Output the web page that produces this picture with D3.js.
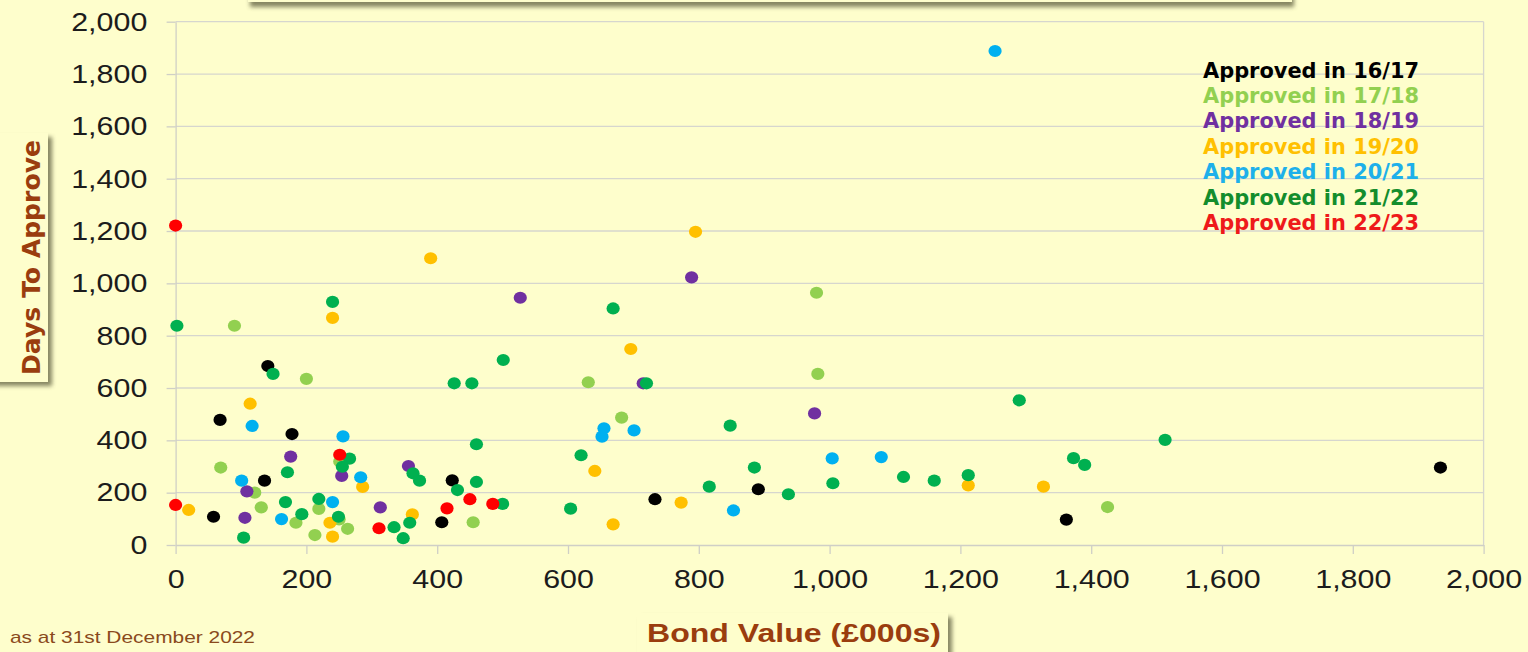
<!DOCTYPE html>
<html>
<head>
<meta charset="utf-8">
<script src="https://cdn.jsdelivr.net/npm/d3@7"></script>
<style>
  html, body { margin: 0; padding: 0; background: #fefecc; overflow: hidden; }
  svg { display: block; }
  .axis text { font-family: 'Liberation Sans', Arial, sans-serif; font-size: 26px; fill: #1c1c1c; }
  .axis .domain { stroke: #cfcfc6; stroke-width: 1.3; }
  .axis .tick line { stroke: #cfcfc6; stroke-width: 1.3; }
  .grid line { stroke: #d6d6ce; stroke-width: 1.3; }
</style>
</head>
<body>
<script>
const w = 1528;
const h = 652;

// series: approval year
const yearLabels = ['16/17', '17/18', '18/19', '19/20', '20/21', '21/22', '22/23'];

// [bond value (£000s), days to approve]
const approved1617 = [
  [58, 108], [68, 478], [141, 684], [136, 246], [178, 424], [423, 247],
  [407, 87], [733, 175], [891, 213], [1362, 97], [1934, 296],
];
const approved1718 = [
  [90, 838], [200, 635], [69, 296], [121, 200], [131, 144], [184, 85],
  [219, 138], [213, 38], [250, 98], [263, 62], [251, 319], [455, 87],
  [631, 622], [682, 487], [980, 964], [982, 654], [1425, 145],
];
const approved1819 = [
  [176, 338], [109, 205], [106, 104], [254, 264], [356, 302], [313, 144],
  [527, 945], [715, 618], [789, 1023], [977, 503],
];
const approved1920 = [
  [20, 134], [114, 540], [240, 868], [390, 1096], [286, 222], [236, 85],
  [240, 32], [362, 117], [641, 283], [669, 79], [696, 749], [773, 162],
  [795, 1197], [1212, 228], [1327, 223],
];
const approved2021 = [
  [117, 455], [256, 415], [283, 259], [101, 246], [162, 99], [240, 164],
  [655, 446], [652, 414], [701, 438], [853, 132], [1004, 331], [1079, 336],
  [1253, 1888],
];
const approved2122 = [
  [2, 838], [149, 654], [240, 929], [501, 707], [426, 618], [453, 618],
  [460, 385], [266, 330], [255, 299], [171, 278], [363, 274], [373, 246],
  [460, 241], [431, 210], [500, 157], [168, 164], [193, 118], [104, 28],
  [219, 176], [249, 108], [358, 85], [334, 68], [348, 26], [604, 139],
  [620, 343], [669, 904], [720, 618], [816, 223], [848, 456], [885, 296],
  [937, 194], [1005, 236], [1113, 260], [1160, 246], [1212, 267], [1290, 553],
  [1373, 332], [1390, 306], [1513, 402],
];
const approved2223 = [
  [0, 1221], [0, 153], [251, 345], [311, 64], [415, 140], [450, 175], [485, 157],
];

const seriesValues = [
  approved1617, approved1718, approved1819, approved1920,
  approved2021, approved2122, approved2223,
];

const xTicks = d3.range(0, 2001, 200);
const yTicks = d3.range(0, 2001, 200);

const dotColors = ['#000000', '#92d050', '#7030a0', '#ffc000', '#00b0f0', '#00b050', '#ff0000'];
const legendColors = ['#000000', '#92d050', '#7030a0', '#ffc000', '#1eb0ea', '#138d2d', '#ee1a1a'];

const bg = '#fefecc';
const titleColor = '#9a3d0e';

const plot = { left: 175.6, right: 1483.6, top: 21.7, bottom: 545 };

const xScale = d3.scaleLinear().domain([0, 2000]).range([plot.left, plot.right]);
const yScale = d3.scaleLinear().domain([0, 2000]).range([plot.bottom, plot.top]);

const svg = d3
  .select('body')
  .append('svg')
  .attr('width', w)
  .attr('height', h);

svg.append('rect').attr('width', w).attr('height', h).attr('fill', bg);

const defs = svg.append('defs');
defs
  .append('filter')
  .attr('id', 'shadow')
  .attr('x', '-20%')
  .attr('y', '-20%')
  .attr('width', '140%')
  .attr('height', '140%')
  .append('feGaussianBlur')
  .attr('stdDeviation', 2.2);

// boxed labels with a drop shadow
function shadowBox(x, y, bw, bh, dx, dy) {
  svg
    .append('rect')
    .attr('x', x + dx)
    .attr('y', y + dy)
    .attr('width', bw)
    .attr('height', bh)
    .attr('fill', '#5e5e40')
    .attr('opacity', 0.75)
    .attr('filter', 'url(#shadow)');
  svg
    .append('rect')
    .attr('x', x)
    .attr('y', y)
    .attr('width', bw)
    .attr('height', bh)
    .attr('fill', bg);
}

shadowBox(248, -40, 1044, 42, 2, 5);
shadowBox(-12, 133, 60, 249, 4, 4);
shadowBox(637, 613, 311, 60, 4, 4);

// grid
svg
  .append('g')
  .attr('class', 'grid')
  .selectAll('line')
  .data(yTicks.filter(d => d > 0))
  .enter()
  .append('line')
  .attr('x1', plot.left)
  .attr('x2', plot.right)
  .attr('y1', d => yScale(d))
  .attr('y2', d => yScale(d));

svg
  .append('line')
  .attr('x1', plot.right)
  .attr('x2', plot.right)
  .attr('y1', plot.top)
  .attr('y2', plot.bottom)
  .attr('stroke', '#d6d6ce')
  .attr('stroke-width', 1.3);

const xAxis = d3
  .axisBottom(xScale)
  .tickValues(xTicks)
  .tickSize(9)
  .tickSizeOuter(0)
  .tickPadding(16)
  .tickFormat(d3.format(','));

const yAxis = d3
  .axisLeft(yScale)
  .tickValues(yTicks)
  .tickSize(9)
  .tickSizeOuter(0)
  .tickPadding(15.2)
  .tickFormat(d3.format(','));

const gx = svg
  .append('g')
  .attr('class', 'axis')
  .attr('transform', `translate(0,${plot.bottom})`)
  .call(xAxis);
gx.selectAll('text').attr('transform', 'scale(1.17,1)');

const gy = svg
  .append('g')
  .attr('class', 'axis')
  .attr('transform', `translate(${plot.left},0)`)
  .call(yAxis);
gy.selectAll('text').attr('transform', 'scale(1.17,1)');

// points
seriesValues.forEach((points, i) => {
  svg
    .append('g')
    .selectAll('ellipse')
    .data(points)
    .enter()
    .append('ellipse')
    .attr('cx', d => xScale(d[0]))
    .attr('cy', d => yScale(d[1]))
    .attr('rx', 6.6)
    .attr('ry', 6.1)
    .attr('fill', dotColors[i]);
});

// legend
svg
  .append('g')
  .selectAll('text')
  .data(yearLabels)
  .enter()
  .append('text')
  .attr('x', 1203)
  .attr('y', (d, i) => 77.5 + i * 25.4)
  .attr('textLength', 216)
  .attr('lengthAdjust', 'spacingAndGlyphs')
  .style('font-family', "'DejaVu Sans', Verdana, sans-serif")
  .style('font-weight', 'bold')
  .style('font-size', '21px')
  .attr('fill', (d, i) => legendColors[i])
  .text(d => `Approved in ${d}`);

// axis titles
svg
  .append('text')
  .attr('transform', 'translate(40,257.5) rotate(-90)')
  .attr('text-anchor', 'middle')
  .attr('textLength', 235)
  .attr('lengthAdjust', 'spacingAndGlyphs')
  .style('font-family', "'DejaVu Sans', Verdana, sans-serif")
  .style('font-weight', 'bold')
  .style('font-size', '24px')
  .attr('fill', titleColor)
  .text('Days To Approve');

svg
  .append('text')
  .attr('x', 647)
  .attr('y', 642)
  .attr('textLength', 294)
  .attr('lengthAdjust', 'spacingAndGlyphs')
  .style('font-family', "'Liberation Sans', Arial, sans-serif")
  .style('font-weight', 'bold')
  .style('font-size', '26px')
  .attr('fill', titleColor)
  .text('Bond Value (£000s)');

svg
  .append('text')
  .attr('x', 10)
  .attr('y', 643)
  .attr('textLength', 245)
  .attr('lengthAdjust', 'spacingAndGlyphs')
  .style('font-family', "'Liberation Sans Narrow', 'Liberation Sans', Arial, sans-serif")
  .style('font-size', '17px')
  .attr('fill', '#8a4a1c')
  .text('as at 31st December 2022');
</script>
</body>
</html>
